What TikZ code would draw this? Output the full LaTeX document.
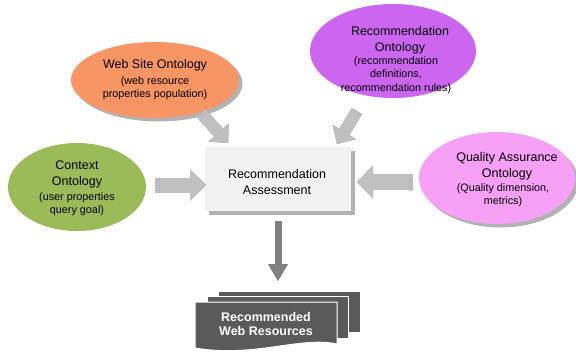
\documentclass[tikz,border=0pt]{standalone}
\usepackage{fontspec}
\setmainfont{Liberation Sans}
\usetikzlibrary{arrows.meta,shapes.geometric,shadows,calc}
\definecolor{webc}{RGB}{247,150,100}
\definecolor{recc}{RGB}{204,102,240}
\definecolor{ctxc}{RGB}{155,187,89}
\definecolor{qac}{RGB}{246,160,246}
\definecolor{boxc}{RGB}{242,242,242}
\definecolor{arrc}{RGB}{192,192,192}
\definecolor{arrd}{RGB}{150,150,150}
\definecolor{downc}{RGB}{128,128,128}
\definecolor{docc}{RGB}{90,90,90}
\begin{document}
\begin{tikzpicture}[x=1pt,y=-1pt,
  onto/.style={ellipse, draw=none, inner sep=0pt},
  shd/.style={drop shadow={shadow xshift=3.5pt, shadow yshift=-3.5pt, fill=gray!75, opacity=.8}},
  ttl/.style={align=center, inner sep=0pt, font=\fontsize{12.5}{16}\selectfont},
  sub/.style={align=center, inner sep=0pt, font=\fontsize{10.8}{13.5}\selectfont},
  blk/.style={line width=#1, arrc},
  blkshadow/.style={line width=#1, arrd, xshift=1.2pt, yshift=-1.2pt},
  stripe/.style={draw=gray!65, line width=0.4pt, dotted},
]
\useasboundingbox (0,0) rectangle (576,354);

% ontologies
\node[onto, shd, fill=webc, minimum width=168pt, minimum height=76pt] (web) at (155,80) {};
\node[ttl] (webt) at (155,65) {Web Site Ontology};
\node[sub] (webs) at (155,88) {(web resource\\properties population)};

\node[onto, fill=recc, minimum width=166pt, minimum height=94pt] (rec) at (393,51) {};
\node[ttl] (rect) at (400,40) {Recommendation\\Ontology};
\node[sub] (recs) at (396,75) {(recommendation\\definitions,\\recommendation rules)};

\node[onto, fill=ctxc, minimum width=138pt, minimum height=88pt] (ctx) at (77,187) {};
\node[ttl] (ctxt) at (77,174) {Context\\Ontology};
\node[sub] (ctxs) at (77,204) {(user properties\\query goal)};

\node[onto, shd, fill=qac, minimum width=156pt, minimum height=92pt] (qa) at (497,178) {};
\node[ttl] (qat) at (507,166) {Quality Assurance\\Ontology};
\node[sub] (qas) at (503,195) {(Quality dimension,\\metrics)};

% assessment box
\node[shd, fill=boxc, minimum width=146pt, minimum height=64pt, inner sep=0pt] (box) at (278,179) {};
\node[ttl] (boxt) at (277,182) {Recommendation\\Assessment};

% documents
\fill[docc, draw=white, line width=1pt] (218,291) rectangle (360,332);
\fill[docc, draw=white, line width=1pt] (207,296) rectangle (348,338);
\fill[docc, draw=white, line width=1pt] (195,302) -- (337,302) -- (337,344)
   .. controls (300,336) and (255,358) .. (195,348) -- cycle;
\node[align=center, inner sep=0pt, text=white, font=\fontsize{12.5}{14}\selectfont\bfseries] (docs) at (266,324) {Recommended\\Web Resources};

% arrow coordinates
\coordinate (wa1) at (201,113); \coordinate (wa2) at (228,143);
\coordinate (ra1) at (357,111); \coordinate (ra2) at (337,144);
\coordinate (ca1) at (155,185); \coordinate (ca2) at (206,185);
\coordinate (qa1) at (413,182); \coordinate (qa2) at (357,182);
\coordinate (da1) at (278,221); \coordinate (da2) at (278,281);

% block arrows (shadow + body)
\foreach \a/\b/\w/\hw/\hl in {wa1/wa2/12pt/27pt/14pt, ra1/ra2/12pt/27pt/14pt, ca1/ca2/15pt/31pt/16pt, qa1/qa2/16pt/33pt/16pt}{
  \draw[blkshadow=\w, -{Triangle[width=\hw,length=\hl,line width=0.01pt]}] (\a) -- (\b);
  \draw[blk=\w, -{Triangle[width=\hw,length=\hl,line width=0.01pt]}] (\a) -- (\b);
}
% tail stripes
\foreach \a/\b/\w in {wa1/wa2/6, ra1/ra2/6, ca1/ca2/7.5, qa1/qa2/8}{
  \foreach \d in {1.5,4}{
    \coordinate (p) at ($(\a)!\d pt!(\b)$);
    \draw[stripe] ($(p)!\w pt!90:(\b)$) -- ($(p)!\w pt!-90:(\b)$);
  }
}
\draw[line width=7pt, downc, -{Triangle[width=20pt,length=17pt,line width=0.01pt]}] (da1) -- (da2);
\end{tikzpicture}
\end{document}
